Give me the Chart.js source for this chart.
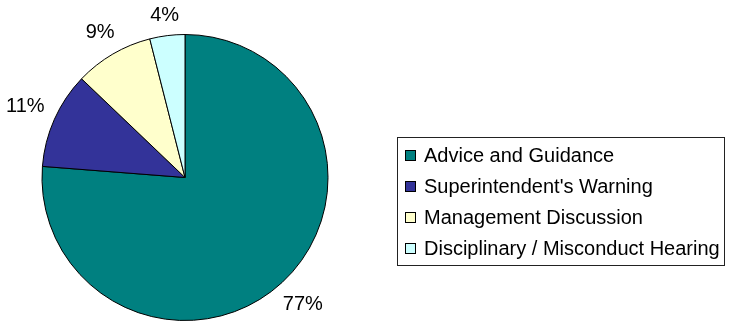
<!DOCTYPE html>
<html lang="en">
<head>
<meta charset="UTF-8">
<title>Case outcomes</title>
<script src="https://cdn.jsdelivr.net/npm/chart.js@4"></script>
<style>
  * { box-sizing: border-box; margin: 0; padding: 0; }
  body { background: #fff; width: 730px; height: 324px; overflow: hidden; font-family: Arial, "Liberation Sans", sans-serif; }
  #wrap { position: relative; width: 730px; height: 324px; }
  #legend { position: absolute; left: 397px; top: 137px; width: 328px; height: 129px; border: 1px solid #222; padding: 2px 0 0 7px; }
  #legend .row { height: 31px; display: flex; align-items: center; font-size: 20px; color: #000; white-space: nowrap; }
  #legend .sw { width: 11px; height: 11px; border: 1px solid #000; margin-right: 8px; flex: none; }
</style>
</head>
<body>
<div id="wrap">
  <canvas id="pie" width="730" height="324"></canvas>
  <div id="legend"></div>
</div>
<script>
const categories = ['Advice and Guidance', "Superintendent's Warning", 'Management Discussion', 'Disciplinary / Misconduct Hearing'];
const shares = [77, 11, 9, 4];
const sliceColors = ['#008080', '#333399', '#FFFFCC', '#CCFFFF'];

// percentage labels placed just outside each slice
const outsideLabels = {
  id: 'outsideLabels',
  afterDatasetsDraw(chart) {
    const { ctx } = chart;
    const meta = chart.getDatasetMeta(0);
    ctx.save();
    ctx.font = '20px Arial, "Liberation Sans", sans-serif';
    ctx.fillStyle = '#000';
    ctx.textAlign = 'center';
    ctx.textBaseline = 'middle';
    meta.data.forEach((arc, i) => {
      const text = shares[i] + '%';
      const mid = (arc.startAngle + arc.endAngle) / 2;
      const dx = Math.cos(mid), dy = Math.sin(mid);
      const w = ctx.measureText(text).width, h = 16;
      const r = arc.outerRadius + 11 + Math.abs(dx) * w / 2 + Math.abs(dy) * h / 2;
      ctx.fillText(text, arc.x + dx * r, arc.y + dy * r);
    });
    ctx.restore();
  }
};

const chart = new Chart(document.getElementById('pie'), {
  type: 'pie',
  data: {
    labels: categories,
    datasets: [{
      data: shares,
      backgroundColor: sliceColors,
      borderColor: '#000',
      borderWidth: 1,
    }],
  },
  options: {
    responsive: false,
    animation: false,
    layout: { padding: { left: 41, right: 401, top: 34, bottom: 3 } },
    plugins: { legend: { display: false }, tooltip: { enabled: false } },
  },
  plugins: [outsideLabels],
});

// legend box built from the chart's own labels
document.getElementById('legend').innerHTML = categories.map((c, i) =>
  `<div class="row"><span class="sw" style="background:${sliceColors[i]}"></span>${c}</div>`
).join('');
</script>
</body>
</html>
